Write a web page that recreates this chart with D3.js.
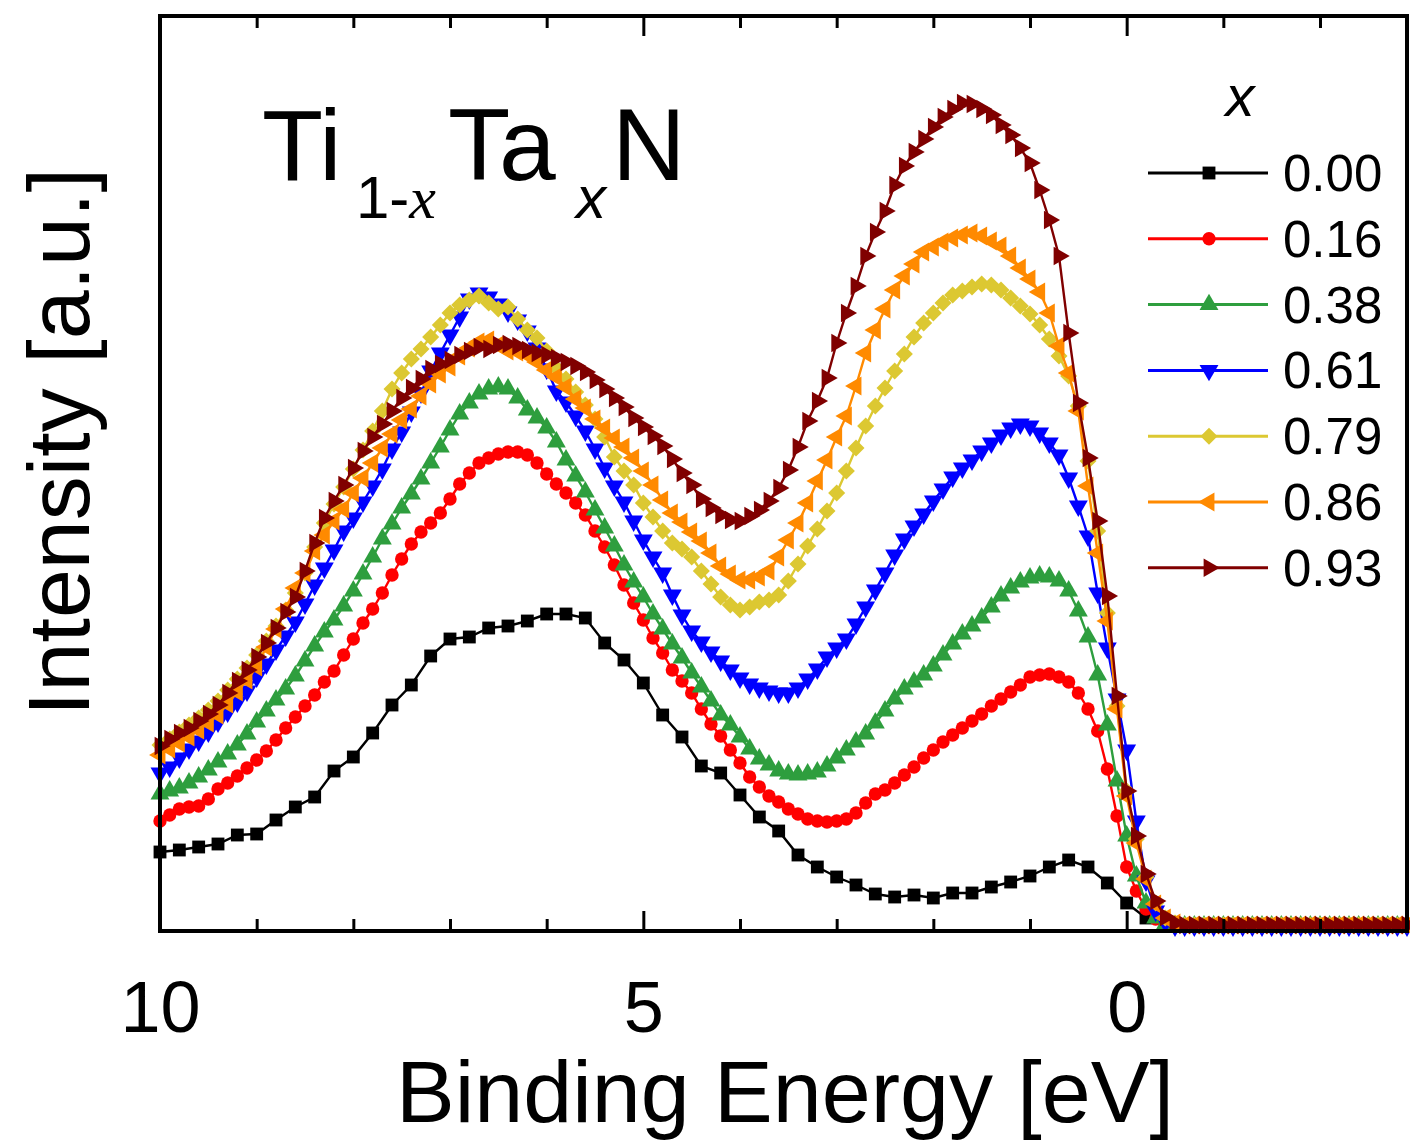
<html>
<head>
<meta charset="utf-8">
<title>TiTaN VB spectra</title>
<style>
  body { margin: 0; background: #fff; }
  text { font-family: "Liberation Sans", Arial, sans-serif; }
</style>
</head>
<body>
<script src="https://cdn.jsdelivr.net/npm/d3@7/dist/d3.min.js"></script>
<script>

// x = Ta fraction, one spectrum each
var labels = ["0.00", "0.16", "0.38", "0.61", "0.79", "0.86", "0.93"];
var colors = ["#000000", "#ff0000", "#2e9e3e", "#0000ff", "#dcc832", "#ff8a00", "#800000"];

// sampling grids (binding energy, eV): black spectrum every 0.2 eV, others every 0.1 eV
var eCoarse = d3.range(0, 65).map(function(i) { return +(10 - i * 0.2).toFixed(1); });
var eFine = d3.range(0, 130).map(function(i) { return +(10 - i * 0.1).toFixed(1); });

// intensities (arb. units, 0 = baseline)
var x000 = [79, 81, 84, 87, 96, 97, 111, 124, 134, 160,
            174, 198, 226, 246, 275, 292, 294, 303, 305, 310,
            317, 317, 313, 288, 271, 248, 216, 194, 165, 158,
            136, 114, 100, 76, 64, 54, 46, 37, 34, 36,
            33, 38, 38, 44, 49, 55, 64, 71, 64, 48,
            28, 13, 6, 5, 5, 5, 5, 5, 5, 5,
            5, 5, 5, 5, 5];
var x016 = [110, 116, 122, 124, 125, 132, 142, 148, 155, 163,
            171, 180, 191, 203, 214, 225, 236, 249, 260, 276,
            292, 308, 322, 338, 356, 372, 387, 399, 408, 418,
            432, 447, 458, 468, 473, 477, 479, 479, 476, 468,
            457, 447, 438, 428, 416, 400, 384, 366, 346, 328,
            311, 293, 278, 261, 250, 238, 222, 207, 195, 181,
            168, 154, 144, 135, 129, 122, 117, 112, 110, 109,
            110, 112, 118, 128, 137, 141, 148, 156, 164, 173,
            181, 189, 196, 203, 210, 217, 225, 232, 239, 246,
            254, 256, 257, 254, 249, 238, 222, 200, 162, 115,
            64, 40, 22, 12, 7, 5, 5, 5, 5, 5,
            5, 5, 5, 5, 5, 5, 5, 5, 5, 5,
            5, 5, 5, 5, 5, 5, 5, 5, 5, 5];
var x038 = [137, 140, 143, 148, 154, 161, 169, 177, 186, 197,
            209, 220, 231, 242, 255, 270, 285, 299, 311, 325,
            340, 357, 374, 392, 407, 423, 437, 452, 468, 484,
            501, 517, 528, 537, 542, 544, 542, 533, 521, 513,
            503, 489, 471, 455, 439, 421, 403, 385, 366, 349,
            334, 317, 302, 287, 273, 258, 244, 230, 216, 206,
            194, 182, 172, 166, 160, 157, 156, 157, 159, 165,
            173, 181, 189, 197, 208, 220, 232, 242, 249, 256,
            265, 276, 287, 297, 305, 313, 324, 335, 343, 349,
            353, 355, 354, 350, 340, 320, 294, 256, 206, 150,
            95, 55, 28, 13, 7, 5, 5, 5, 5, 5,
            5, 5, 5, 5, 5, 5, 5, 5, 5, 5,
            5, 5, 5, 5, 5, 5, 5, 5, 5, 5];
var x061 = [158, 164, 173, 182, 190, 199, 209, 219, 229, 240,
            254, 267, 281, 295, 309, 327, 346, 363, 381, 400,
            413, 429, 445, 462, 482, 499, 519, 538, 560, 578,
            596, 614, 632, 638, 634, 627, 619, 611, 600, 583,
            562, 540, 529, 515, 500, 482, 463, 445, 429, 410,
            391, 374, 358, 336, 316, 300, 289, 279, 270, 261,
            253, 247, 243, 240, 238, 238, 243, 252, 262, 274,
            283, 292, 307, 324, 341, 358, 376, 392, 405, 417,
            430, 442, 454, 463, 471, 480, 488, 496, 503, 507,
            505, 498, 488, 476, 453, 425, 395, 338, 283, 232,
            181, 110, 50, 20, 9, 5, 5, 5, 5, 5,
            5, 5, 5, 5, 5, 5, 5, 5, 5, 5,
            5, 5, 5, 5, 5, 5, 5, 5, 5, 5];
var x079 = [186, 192, 199, 206, 213, 221, 230, 241, 252, 263,
            276, 290, 305, 321, 338, 358, 384, 408, 427, 444,
            462, 481, 500, 520, 542, 558, 572, 582, 594, 606,
            618, 626, 631, 635, 628, 622, 624, 612, 601, 593,
            580, 563, 552, 539, 526, 512, 494, 474, 460, 446,
            428, 414, 400, 388, 382, 374, 360, 347, 334, 326,
            321, 324, 329, 331, 336, 350, 367, 385, 402, 420,
            438, 460, 483, 505, 525, 543, 560, 577, 594, 608,
            618, 628, 636, 640, 644, 647, 646, 641, 633, 625,
            617, 606, 592, 575, 555, 525, 470, 400, 318, 225,
            140, 92, 54, 28, 13, 8, 6, 6, 6, 6,
            6, 6, 6, 6, 6, 6, 6, 6, 6, 6,
            6, 6, 6, 6, 6, 6, 6, 6, 6, 6];
var x086 = [176, 182, 188, 194, 201, 208, 216, 227, 239, 251,
            264, 284, 302, 322, 343, 358, 380, 396, 410, 422,
            438, 453, 468, 483, 497, 511, 522, 535, 547, 557,
            564, 575, 583, 589, 591, 586, 580, 579, 576, 569,
            561, 554, 544, 532, 523, 512, 503, 493, 484, 473,
            460, 446, 431, 418, 409, 399, 390, 378, 365, 357,
            351, 351, 354, 360, 374, 391, 408, 428, 450, 471,
            494, 515, 545, 578, 601, 622, 641, 655, 667, 679,
            684, 689, 693, 696, 698, 695, 690, 685, 675, 663,
            652, 639, 618, 585, 558, 520, 445, 378, 310, 222,
            135, 88, 52, 27, 13, 8, 6, 6, 6, 6,
            6, 6, 6, 6, 6, 6, 6, 6, 6, 6,
            6, 6, 6, 6, 6, 6, 6, 6, 6, 6];
var x093 = [185, 192, 198, 203, 210, 217, 226, 238, 250, 261,
            274, 288, 303, 319, 334, 360, 388, 413, 430, 446,
            463, 480, 494, 507, 520, 533, 543, 552, 562, 567,
            571, 576, 580, 584, 582, 586, 587, 585, 581, 578,
            576, 573, 569, 565, 559, 551, 542, 533, 524, 513,
            504, 495, 485, 472, 458, 446, 432, 423, 416, 411,
            410, 415, 421, 430, 443, 461, 484, 510, 530, 553,
            588, 618, 645, 675, 699, 720, 746, 765, 779, 792,
            804, 814, 822, 828, 827, 822, 816, 806, 796, 783,
            768, 741, 711, 675, 598, 528, 473, 410, 335, 235,
            140, 95, 57, 30, 14, 8, 6, 6, 6, 6,
            6, 6, 6, 6, 6, 6, 6, 6, 6, 6,
            6, 6, 6, 6, 6, 6, 6, 6, 6, 6];

var series = [
  {energy: eCoarse, values: x000},
  {energy: eFine, values: x016},
  {energy: eFine, values: x038},
  {energy: eFine, values: x061},
  {energy: eFine, values: x079},
  {energy: eFine, values: x086},
  {energy: eFine, values: x093}
];

// marker per series: [d3 symbol, rotation, area]
var markers = [
  [d3.symbolSquare, 0, 165],
  [d3.symbolCircle, 0, 140],
  [d3.symbolTriangle, 0, 155],
  [d3.symbolTriangle, 180, 155],
  [d3.symbolSquare, 45, 145],
  [d3.symbolTriangle, -90, 155],
  [d3.symbolTriangle, 90, 150]
];

var svg = d3.select("body").append("svg")
            .attr("width", 1410)
            .attr("height", 1144);

// plot box (don't use "top" - clashes with window.top)
var pL = 160, pR = 1407, pT = 16, pB = 931;

var x = d3.scaleLinear().domain([10, -2.9]).range([pL, pR]);
var y = d3.scaleLinear().domain([0, 915]).range([pB, pT]);

// curves
var line = d3.line()
             .x(function(d) { return x(d[0]); })
             .y(function(d) { return y(d[1]); });

var plot = svg.append("g");

series.forEach(function(s, i) {
  var pts = s.energy.map(function(e, j) { return [e, s.values[j]]; });
  var g = plot.append("g");
  g.append("path")
   .attr("d", line(pts))
   .attr("fill", "none")
   .attr("stroke", colors[i])
   .attr("stroke-width", 2.4);
  var sym = d3.symbol().type(markers[i][0]).size(markers[i][2]);
  g.selectAll("path.m")
   .data(pts)
   .enter().append("path")
   .attr("class", "m")
   .attr("d", sym)
   .attr("fill", colors[i])
   .attr("transform", function(d) {
     return "translate(" + x(d[0]) + "," + y(d[1]) + ") rotate(" + markers[i][1] + ")";
   });
});

// ticks, bottom + top, pointing inward
var minor = [9, 8, 7, 6, 4, 3, 2, 1, -1, -2];
var major = [10, 5, 0];

var bot = svg.append("g").attr("transform", "translate(0," + pB + ")");
bot.call(d3.axisBottom(x).tickValues(minor).tickSize(-12).tickFormat(""));
var bot2 = svg.append("g").attr("transform", "translate(0," + pB + ")");
bot2.call(d3.axisBottom(x).tickValues(major).tickSize(-20).tickPadding(50)
          .tickFormat(d3.format("d")));

var topAx = svg.append("g").attr("transform", "translate(0," + pT + ")");
topAx.call(d3.axisTop(x).tickValues(minor).tickSize(-12).tickFormat(""));
var topAx2 = svg.append("g").attr("transform", "translate(0," + pT + ")");
topAx2.call(d3.axisTop(x).tickValues(major).tickSize(-20).tickFormat(""));

svg.selectAll(".domain").remove();
svg.selectAll(".tick line").attr("stroke", "#000").attr("stroke-width", 3);
bot2.selectAll(".tick text")
    .attr("font-size", 72)
    .attr("fill", "#000")
    .attr("font-family", "Liberation Sans, Arial, sans-serif");

// frame
svg.append("rect")
   .attr("x", pL).attr("y", pT)
   .attr("width", pR - pL).attr("height", pB - pT)
   .attr("fill", "none")
   .attr("stroke", "#000")
   .attr("stroke-width", 4);

// axis titles
svg.append("text")
   .attr("x", 785).attr("y", 1122)
   .attr("text-anchor", "middle")
   .attr("font-size", 88)
   .text("Binding Energy [eV]");

svg.append("text")
   .attr("transform", "translate(89,442) rotate(-90)")
   .attr("text-anchor", "middle")
   .attr("font-size", 88)
   .text("Intensity [a.u.]");

// compound label Ti(1-x)Ta(x)N
var serif = "Liberation Serif, Times New Roman, serif";
svg.append("text").attr("x", 262).attr("y", 180).attr("font-size", 100).text("Ti");
var sub1 = svg.append("text").attr("x", 356).attr("y", 218).attr("font-size", 60);
sub1.append("tspan").text("1-");
sub1.append("tspan").attr("font-family", serif).attr("font-style", "italic").text("x");
svg.append("text").attr("x", 448).attr("y", 180).attr("font-size", 102).text("Ta");
svg.append("text").attr("x", 576).attr("y", 218).attr("font-size", 60)
   .attr("font-family", serif).attr("font-style", "italic").text("x");
svg.append("text").attr("x", 612).attr("y", 180).attr("font-size", 102).text("N");

// legend
var leg = svg.append("g");
leg.append("text")
   .attr("x", 1240).attr("y", 116)
   .attr("text-anchor", "middle")
   .attr("font-size", 58)
   .attr("font-family", serif)
   .attr("font-style", "italic")
   .text("x");

labels.forEach(function(lab, i) {
  var cy = 173 + i * 65.8;
  leg.append("line")
     .attr("x1", 1148).attr("x2", 1268)
     .attr("y1", cy).attr("y2", cy)
     .attr("stroke", colors[i]).attr("stroke-width", 3);
  leg.append("path")
     .attr("d", d3.symbol().type(markers[i][0]).size(markers[i][2])())
     .attr("fill", colors[i])
     .attr("transform", "translate(1209," + cy + ") rotate(" + markers[i][1] + ")");
  leg.append("text")
     .attr("x", 1283).attr("y", cy + 18)
     .attr("font-size", 51)
     .text(lab);
});

</script>
</body>
</html>
